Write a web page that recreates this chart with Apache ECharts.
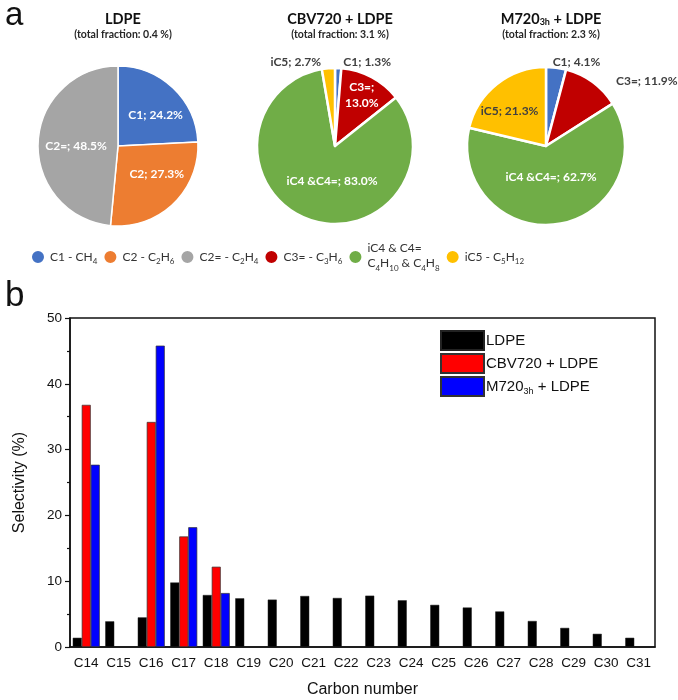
<!DOCTYPE html>
<html><head><meta charset="utf-8">
<script src="https://cdn.jsdelivr.net/npm/echarts@6/dist/echarts.min.js"></script>
<style>html,body{margin:0;padding:0;background:#fff}#c{width:678px;height:700px}</style>
</head><body><div id="c"></div>
<script>
// ---------- data ----------
const categories = ['C14','C15','C16','C17','C18','C19','C20','C21','C22','C23','C24','C25','C26','C27','C28','C29','C30','C31'];
const ldpeSel  = [1.4, 3.9, 4.5, 9.8, 7.9, 7.4, 7.2, 7.75, 7.45, 7.8, 7.1, 6.4, 6.0, 5.4, 3.95, 2.9, 2.0, 1.4];
const cbvSel   = [36.8, '-', 34.2, 16.8, 12.2, '-', '-', '-', '-', '-', '-', '-', '-', '-', '-', '-', '-', '-'];
const m720Sel  = [27.7, '-', 45.8, 18.2, 8.2, '-', '-', '-', '-', '-', '-', '-', '-', '-', '-', '-', '-', '-'];
const barSeriesNames = ['LDPE', 'CBV720 + LDPE', 'M720_3h + LDPE'];
const yTicks = [0, 10, 20, 30, 40, 50];

const gasKeys = ['C1', 'C2', 'C2=', 'C3=', 'iC4 &C4=', 'iC5'];
const gasLegend = ['C1 - CH{s|4}', 'C2 - C{s|2}H{s|6}', 'C2= - C{s|2}H{s|4}', 'C3= - C{s|3}H{s|6}', 'iC4 & C4=\nC{s|4}H{s|10} & C{s|4}H{s|8}', 'iC5 - C{s|5}H{s|12}'];
const pie1Names = ['C1', 'C2', 'C2='];
const pie1Values = [24.2, 27.3, 48.5];
const pie2Names = ['C1', 'C3=', 'iC4 &C4=', 'iC5'];
const pie2Values = [1.3, 13.0, 83.0, 2.7];
const pie3Names = ['C1', 'C3=', 'iC4 &C4=', 'iC5'];
const pie3Values = [4.1, 11.9, 62.7, 21.3];
const pieTitles = ['LDPE', 'CBV720 + LDPE', 'M720{s|3h} + LDPE'];
const pieSubtitles = ['(total fraction: 0.4 %)', '(total fraction: 3.1 %)', '(total fraction: 2.3 %)'];

// ---------- styles ----------
const gasColors = {'C1':'#4472C4','C2':'#ED7D31','C2=':'#A5A5A5','C3=':'#C00000','iC4 &C4=':'#70AD47','iC5':'#FFC000'};
const FONT_PIE = 'Lato';
const FONT_BAR = 'Liberation Sans';
function ls(position, color, offset, brk) { return {position, color, offset, brk: !!brk}; }
const W = '#ffffff', D = '#404040';
const pieLabelStyles = [
  {'C1': ls('inside', W, [8,0]), 'C2': ls('inside', W, [9,-3]), 'C2=': ls('inside', W, [1,2])},
  {'C1': ls('outside', D, [0,-2]), 'C3=': ls('inside', W, [7,-14], true), 'iC4 &C4=': ls('inside', W, [12,-4]), 'iC5': ls('outside', D, [-2,-2])},
  {'C1': ls('outside', D, [-9,-2]), 'C3=': ls('outside', D, [16,2]), 'iC4 &C4=': ls('inside', W, [-2,-11]), 'iC5': ls('inside', D, [-10,-2])}
];
const pieCenters = [[118,146],[335,146],[546,146]];
const pieRadius = [80, 78, 79];
const pieBorder = [1.5, 2.5, 2.5];

function buildPie(idx, names, values) {
  return {
    type: 'pie', center: pieCenters[idx], radius: pieRadius[idx], startAngle: 90, clockwise: true,
    animation: false, avoidLabelOverlap: false,
    itemStyle: {borderColor: '#fff', borderWidth: pieBorder[idx]},
    labelLine: {show: false, length: 4, length2: 0},
    data: names.map((n, i) => {
      const st = pieLabelStyles[idx][n];
      return {
        name: n, value: values[i],
        itemStyle: {color: gasColors[n]},
        label: {
          show: true, position: st.position, color: st.color, offset: st.offset,
          fontFamily: FONT_PIE, fontWeight: 'bold', fontSize: 12, lineHeight: 16,
          formatter: n + (st.brk ? ';\n' : '; ') + values[i].toFixed(1) + '%'
        }
      };
    })
  };
}

const subRich = {s: {fontSize: 8, verticalAlign: 'bottom', lineHeight: 17, padding: [5,0,0,0]}};

const titles = [
  {text: 'a', left: 0, top: -6, textStyle: {fontFamily: 'Liberation Sans', fontSize: 33, fontWeight: 'normal', color: '#111'}},
  {text: 'b', left: 0, top: 274, textStyle: {fontFamily: 'Liberation Sans', fontSize: 35, fontWeight: 'normal', color: '#111'}}
];
pieTitles.forEach((t, i) => {
  titles.push({
    text: t, subtext: pieSubtitles[i], left: pieCenters[i][0], top: 7, textAlign: 'center', itemGap: 2,
    textStyle: {fontFamily: FONT_PIE, fontSize: 14.5, fontWeight: 'bold', color: '#111', rich: {s: {fontSize: 9, fontWeight: 'bold', fontFamily: FONT_PIE, verticalAlign: 'bottom', padding: [6,0,0,0], color:'#111'}}},
    subtextStyle: {fontFamily: FONT_PIE, fontSize: 10.5, fontWeight: 'bold', color: '#262626'}
  });
});

const chart = echarts.init(document.getElementById('c'), null, {renderer: 'canvas'});
chart.setOption({
  animation: false,
  backgroundColor: '#fff',
  title: titles,
  legend: [
    {
      data: gasKeys, left: 30, top: 242, padding: 0, icon: 'circle', itemWidth: 14, itemHeight: 14, itemGap: 5,
      formatter: name => gasLegend[gasKeys.indexOf(name)],
      textStyle: {fontFamily: FONT_PIE, fontSize: 12, color: '#333', lineHeight: 13, align: 'center', rich: subRich},
      selectedMode: false
    },
    {
      data: barSeriesNames, left: 440, top: 330, padding: 0, orient: 'vertical', icon: 'rect', itemWidth: 43, itemHeight: 19, itemGap: 2,
      formatter: name => name.replace('_3h', '{s|3h}'),
      textStyle: {fontFamily: FONT_BAR, fontSize: 15, color: '#111', lineHeight: 19, padding: [0,0,0,-3], rich: {s: {fontSize: 9, fontFamily: FONT_BAR, verticalAlign: 'bottom', lineHeight: 19, padding: [6,0,0,0], color: '#111'}}},
      selectedMode: false
    }
  ],
  grid: {left: 70, right: 23, top: 318, bottom: 53, show: true, borderColor: '#111', borderWidth: 1.5, backgroundColor: 'transparent'},
  xAxis: [
    {
      type: 'category', data: categories, position: 'bottom',
      name: 'Carbon number', nameLocation: 'middle', nameGap: 35,
      nameTextStyle: {fontFamily: FONT_BAR, fontSize: 16, color: '#111'},
      axisLine: {lineStyle: {color: '#111', width: 1.5}},
      axisTick: {alignWithLabel: false, length: 4, lineStyle: {color: '#111', width: 1.2}},
      axisLabel: {fontFamily: FONT_BAR, fontSize: 13.5, color: '#111', margin: 9, interval: 0}
    },
    {
      type: 'category', data: categories, position: 'bottom', gridIndex: 0,
      axisLine: {show: false},
      axisTick: {alignWithLabel: true, length: 6, lineStyle: {color: '#111', width: 1.2}},
      axisLabel: {show: false}
    }
  ],
  yAxis: {
    type: 'value', min: yTicks[0], max: yTicks[yTicks.length - 1], interval: 10,
    name: 'Selectivity (%)', nameLocation: 'middle', nameGap: 42,
    nameTextStyle: {fontFamily: FONT_BAR, fontSize: 16, color: '#111'},
    axisLine: {show: true, lineStyle: {color: '#111', width: 1.5}},
    axisTick: {show: true, length: 5, lineStyle: {color: '#111', width: 1.2}},
    minorTick: {show: true, splitNumber: 2, length: 3, lineStyle: {color: '#111', width: 1.2}},
    splitLine: {show: false},
    axisLabel: {fontFamily: FONT_BAR, fontSize: 13.5, color: '#111', margin: 8}
  },
  series: [
    {type: 'bar', name: barSeriesNames[0], data: ldpeSel, barWidth: 9, barGap: '0%', itemStyle: {color: '#000', borderColor: '#222', borderWidth: 0.5}},
    {type: 'bar', name: barSeriesNames[1], data: cbvSel, barWidth: 9, barGap: '0%', itemStyle: {color: '#FF0000', borderColor: '#333', borderWidth: 0.7}},
    {type: 'bar', name: barSeriesNames[2], data: m720Sel, barWidth: 9, barGap: '0%', itemStyle: {color: '#0000FF', borderColor: '#333', borderWidth: 0.7}},
    buildPie(0, pie1Names, pie1Values),
    buildPie(1, pie2Names, pie2Values),
    buildPie(2, pie3Names, pie3Values)
  ]
});
</script></body></html>
